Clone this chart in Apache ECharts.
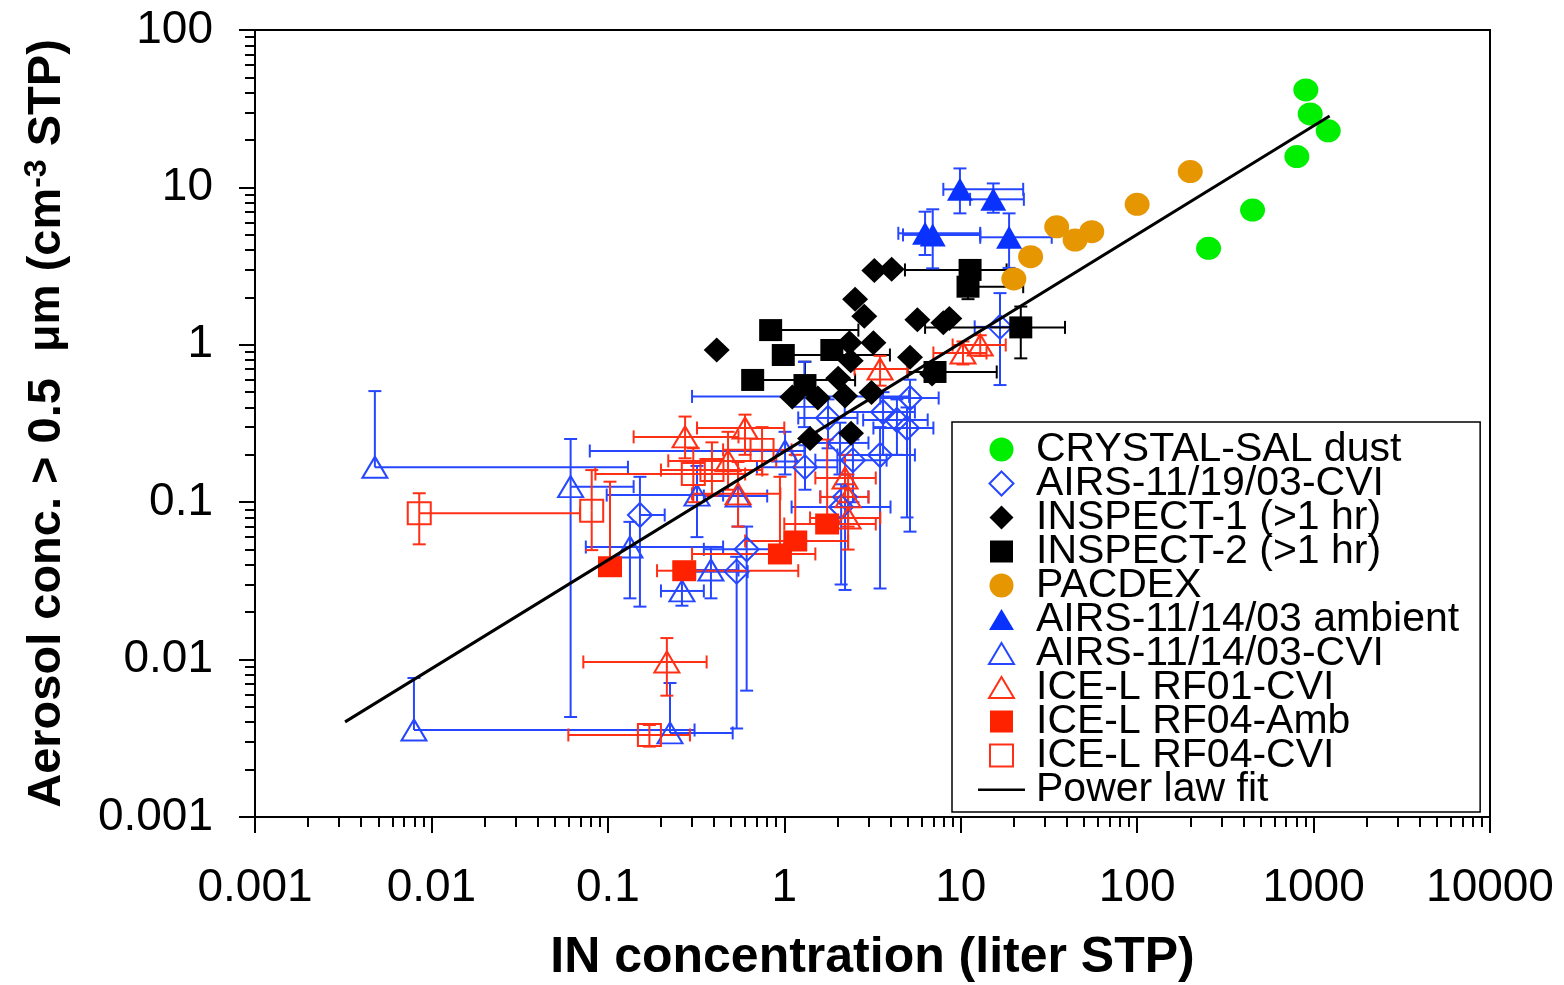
<!DOCTYPE html>
<html>
<head>
<meta charset="utf-8">
<script src="https://cdn.jsdelivr.net/npm/echarts@6/dist/echarts.min.js"></script>
<style>
html,body{margin:0;padding:0;background:#fff;}
#c{width:1564px;height:985px;}
</style>
</head>
<body>
<div id="c"></div>
<script>
// ---------- tick labels ----------
const xMajorTicks = [0.001, 0.01, 0.1, 1, 10, 100, 1000, 10000];
const yMajorTicks = [0.001, 0.01, 0.1, 1, 10, 100];

// ---------- data: [x, y] or [x, y, xlo, xhi, ylo, yhi] ----------
const crystalSal = [[904,41.6],[957,29.3],[1211,22.9],[804,15.7],[451,7.18],[254,4.10]];
const pacdex = [[200,12.6],[100,7.81],[35,5.62],[44.5,4.63],[55.3,5.23],[24.9,3.63],[20.0,2.62]];
const inspect1 = [[3.24,2.96],[4.06,3.02],[2.52,1.95],[2.84,1.52],[5.68,1.44],[8.62,1.47],[7.97,1.38],
  [0.414,0.927],[2.34,1.03],[3.20,1.03],[5.16,0.833],[2.38,0.792],[2.02,0.612],[1.11,0.466],
  [1.55,0.459],[2.21,0.473],[3.12,0.498],[1.40,0.254],[2.39,0.274],[6.88,0.652]];
const inspect2 = [
  [11.3,2.99,4.83,18.2,2.99,2.99],
  [11.0,2.34,11.0,22.6,1.95,2.34],
  [21.9,1.29,6.28,39.0,0.82,1.75],
  [0.837,1.24,0.837,2.63,1.24,1.24],
  [0.987,0.861,0.987,3.97,0.861,0.861],
  [1.86,0.927,1.86,1.86,0.927,0.927],
  [0.662,0.598,0.662,2.52,0.598,0.598],
  [1.31,0.555,1.31,1.31,0.555,0.781],
  [7.15,0.672,5.0,16,0.672,0.672]];
const airsAmbient = [
  [9.9,9.72,7.97,22.6,6.84,13.2],
  [15.3,8.4,11.3,22.8,6.9,10.6],
  [6.28,5.11,4.43,12.9,3.72,7.01],
  [6.94,4.99,4.71,12.9,3.06,7.26],
  [18.8,4.82,12.9,32.8,3.08,6.84]];
const airs1119Cvi = [
  [0.152,0.0829,0.152,0.21,0.0217,0.145],
  [1.31,0.167,0.7,2.0,0.12,0.23],
  [0.612,0.0502,0.35,1.0,0.00635,0.07],
  [0.537,0.0362,0.25,0.62,0.00365,0.045],
  [2.45,0.185,1.5,3.8,0.1,0.25],
  [3.49,0.1995,2.0,5.5,0.0283,0.3],
  [2.21,0.108,1.6,3.0,0.0277,0.15],
  [2.1,0.0932,1.1,4.0,0.03,0.13],
  [5.16,0.459,3.5,7.5,0.065,0.6],
  [3.63,0.374,2.2,5.5,0.2,0.5],
  [4.35,0.333,2.8,6.5,0.2,0.45],
  [4.96,0.296,3.2,7.0,0.08,0.4],
  [2.07,0.238,1.4,3.0,0.15,0.32],
  [16.7,1.30,12,25,0.555,2.13],
  [1.77,0.343,1.2,2.6,0.22,0.45]];
const airs1114Cvi = [
  [0.00478,0.1667,0.00478,0.13,0.1667,0.508],
  [0.0615,0.1255,0.0615,0.14,0.00432,0.252],
  [0.00796,0.00357,0.00796,0.31,0.00357,0.00764],
  [0.225,0.00342,0.225,0.51,0.00342,0.0071],
  [0.1334,0.0519,0.075,0.45,0.0245,0.075],
  [0.263,0.0273,0.2,0.35,0.022,0.034],
  [0.384,0.0371,0.3,0.55,0.0245,0.052],
  [0.32,0.111,0.0985,0.45,0.06,0.17],
  [0.547,0.1095,0.35,0.8,0.07,0.16],
  [1.01,0.2115,0.079,1.3,0.15,0.28],
  [1.3,0.47,0.3,5.1,0.3,0.78]];
const rf01Cvi = [
  [0.274,0.26,0.14,0.55,0.19,0.35],
  [0.599,0.296,0.32,1.0,0.2,0.36],
  [0.48,0.183,0.22,0.9,0.12,0.28],
  [0.547,0.113,0.3,0.95,0.07,0.18],
  [0.216,0.00966,0.0726,0.363,0.0059,0.0137],
  [2.21,0.1425,1.5,3.3,0.1,0.2],
  [2.30,0.0794,1.4,3.5,0.05,0.13],
  [2.30,0.108,1.6,3.0,0.07,0.15],
  [3.49,0.702,2.5,5.0,0.55,0.85],
  [10.3,0.887,7.0,14,0.75,1.05],
  [12.9,0.997,9.0,18,0.85,1.15]];
const rf04Amb = [
  [0.1028,0.0389,0.1028,0.1028,0.0389,0.135],
  [0.271,0.0367,0.19,1.2,0.0367,0.0367],
  [0.945,0.0469,0.3,1.5,0.0469,0.145],
  [1.154,0.0567,0.6,2.3,0.0567,0.2],
  [1.75,0.0727,1.0,3.3,0.0727,0.25]];
const rf04Cvi = [
  [0.00853,0.085,0.00853,0.0695,0.054,0.114],
  [0.081,0.0883,0.081,0.081,0.0496,0.16],
  [0.172,0.00332,0.0597,0.292,0.0028,0.00384],
  [0.305,0.151,0.085,0.6,0.1,0.22],
  [0.389,0.160,0.2,0.75,0.11,0.24],
  [0.748,0.215,0.45,1.1,0.15,0.3]];
const powerLawFit = [[0.00324,0.00402],[1233,28.4]];

// ---------- minor tick positions (axis decoration) ----------
function minorTicks(lo, hi){ const a=[]; for(let e=lo;e<hi;e++){ for(let m=2;m<=9;m++){ a.push(Number((m*Math.pow(10,e)).toPrecision(3))); } } return a; }
const xMinorTicks = minorTicks(-3,4);
const yMinorTicks = minorTicks(-3,2);

const FONT = '"Liberation Sans", Arial, sans-serif';
const BLUE = '#2647ff', BLUE_F = '#0a32ff', RED = '#ff3016', RED_F = '#ff2200';

// legend icons drawn in a 47x25 box (leading moveTo points fix the box)
const ICON_CIRCLE = 'path://M0,0M47,25M11.5,12.5a12,12 0 1,0 24,0a12,12 0 1,0 -24,0z';
const ICON_DIAMOND = 'path://M0,0M47,25M23.5,0.5L35.5,12.5L23.5,24.5L11.5,12.5z';
const ICON_SQUARE = 'path://M0,0M47,25M12,1.5h23v22h-23z';
const ICON_TRI = 'path://M0,0M47,25M23.5,2L36,23H11z';
const ICON_LINE = 'path://M0,0M47,25M0,11.5h47v2.5h-47z';

const defs = [
  {name:'CRYSTAL-SAL dust', data:crystalSal, symbol:'circle', icon:ICON_CIRCLE, size:[25,23], color:'#00ee00', filled:true, z:4},
  {name:'AIRS-11/19/03-CVI', data:airs1119Cvi, symbol:'diamond', icon:ICON_DIAMOND, size:[24,24], color:BLUE, filled:false, eb:BLUE, z:2},
  {name:'INSPECT-1 (>1 hr)', data:inspect1, symbol:'diamond', icon:ICON_DIAMOND, size:[26,25], color:'#000', filled:true, z:4},
  {name:'INSPECT-2 (>1 hr)', data:inspect2, symbol:'rect', icon:ICON_SQUARE, size:[23,22], color:'#000', filled:true, eb:'#000', z:4},
  {name:'PACDEX', data:pacdex, symbol:'circle', icon:ICON_CIRCLE, size:[25,23], color:'#e69600', filled:true, z:4},
  {name:'AIRS-11/14/03 ambient', data:airsAmbient, symbol:'triangle', icon:ICON_TRI, size:[26,23], color:BLUE_F, filled:true, eb:BLUE, z:4},
  {name:'AIRS-11/14/03-CVI', data:airs1114Cvi, symbol:'triangle', icon:ICON_TRI, size:[25,21], color:BLUE, filled:false, eb:BLUE, z:2},
  {name:'ICE-L RF01-CVI', data:rf01Cvi, symbol:'triangle', icon:ICON_TRI, size:[25,21], color:RED, filled:false, eb:RED, z:2},
  {name:'ICE-L RF04-Amb', data:rf04Amb, symbol:'rect', icon:ICON_SQUARE, size:[24,21], color:RED_F, filled:true, eb:RED, z:3},
  {name:'ICE-L RF04-CVI', data:rf04Cvi, symbol:'rect', icon:ICON_SQUARE, size:[23,22], color:RED, filled:false, eb:RED, z:2}
];

function makeErrRender(color){
  return function(params, api){
    const x=api.value(0), y=api.value(1), xlo=api.value(2), xhi=api.value(3), ylo=api.value(4), yhi=api.value(5);
    const c=api.coord([x,y]);
    const cap=6.5;
    const st={stroke:color, lineWidth:2};
    const ch=[];
    const L=(x1,y1,x2,y2)=>ch.push({type:'line', shape:{x1:x1,y1:y1,x2:x2,y2:y2}, style:st});
    if(xlo<x){ const p=api.coord([xlo,y])[0]; L(p,c[1],c[0],c[1]); L(p,c[1]-cap,p,c[1]+cap); }
    if(xhi>x){ const p=api.coord([xhi,y])[0]; L(c[0],c[1],p,c[1]); L(p,c[1]-cap,p,c[1]+cap); }
    if(ylo<y){ const p=api.coord([x,ylo])[1]; L(c[0],c[1],c[0],p); L(c[0]-cap,p,c[0]+cap,p); }
    if(yhi>y){ const p=api.coord([x,yhi])[1]; L(c[0],c[1],c[0],p); L(c[0]-cap,p,c[0]+cap,p); }
    return {type:'group', children:ch};
  };
}

const series = [];
defs.forEach((d,i)=>{
  if(d.eb){
    series.push({
      type:'custom', name:'_eb'+i, renderItem:makeErrRender(d.eb),
      data:d.data, dimensions:['x','y','xlo','xhi','ylo','yhi'],
      encode:{x:0,y:1}, z:1, silent:true, clip:false
    });
  }
});
defs.forEach(d=>{
  series.push({
    type:'scatter', name:d.name, data:d.data.map(r=>[r[0],r[1]]),
    symbol:d.symbol, symbolSize:d.size, z:d.z,
    itemStyle: d.filled ? {color:d.color, opacity:1} : {color:'rgba(0,0,0,0)', borderColor:d.color, borderWidth:2, opacity:1},
    emphasis:{disabled:true}
  });
});
series.push({
  type:'line', name:'Power law fit', data:powerLawFit, showSymbol:false, symbol:'none',
  lineStyle:{color:'#000', width:3}, itemStyle:{color:'#000'}, z:6, silent:true
});

const fmt = v => String(Number(Number(v).toPrecision(3)));

const legendData = defs.map(d=>({name:d.name, icon:d.icon}));
legendData.push({name:'Power law fit', icon:ICON_LINE, itemStyle:{color:'#000', borderWidth:0}});

const option = {
  animation:false,
  backgroundColor:'#fff',
  grid:{left:255, right:74, top:30, bottom:168, show:true, borderColor:'#000', borderWidth:2,
        backgroundColor:'transparent', outerBoundsMode:'none', containLabel:false},
  xAxis:[
    {type:'log', logBase:10, min:0.001, max:10000, position:'bottom', gridIndex:0,
     axisLine:{show:true, lineStyle:{color:'#000', width:2}},
     axisTick:{show:true, inside:false, length:16, lineStyle:{color:'#000', width:2}, customValues:xMajorTicks},
     axisLabel:{show:true, customValues:xMajorTicks, formatter:fmt, fontSize:46, fontFamily:FONT, color:'#000', margin:48},
     splitLine:{show:false}, minorTick:{show:false}, minorSplitLine:{show:false},
     name:'IN concentration (liter STP)', nameLocation:'middle', nameGap:116,
     nameTextStyle:{fontSize:50, fontWeight:'bold', fontFamily:FONT, color:'#000'}},
    {type:'log', logBase:10, min:0.001, max:10000, position:'bottom', gridIndex:0,
     axisLine:{show:false},
     axisTick:{show:true, inside:false, length:10, lineStyle:{color:'#000', width:2}, customValues:xMinorTicks},
     axisLabel:{show:false}, splitLine:{show:false}}
  ],
  yAxis:[
    {type:'log', logBase:10, min:0.001, max:100, position:'left', gridIndex:0,
     axisLine:{show:true, lineStyle:{color:'#000', width:2}},
     axisTick:{show:true, inside:false, length:16, lineStyle:{color:'#000', width:2}, customValues:yMajorTicks},
     axisLabel:{show:true, customValues:yMajorTicks, formatter:fmt, fontSize:46, fontFamily:FONT, color:'#000', margin:42},
     splitLine:{show:false},
     name:'{a|Aerosol conc. > 0.5  }{m|μm}{a| (cm}{s|-3}{a| STP)}', nameLocation:'middle', nameGap:182, nameRotate:90,
     nameTextStyle:{fontFamily:FONT, color:'#000',
       rich:{a:{fontSize:47, fontWeight:'bold', fontFamily:FONT, color:'#000', lineHeight:52},
             m:{fontSize:45, fontWeight:'bold', fontFamily:FONT, color:'#000', lineHeight:52},
             s:{fontSize:32, fontWeight:'bold', fontFamily:FONT, color:'#000', verticalAlign:'top', lineHeight:52}}}},
    {type:'log', logBase:10, min:0.001, max:100, position:'left', gridIndex:0,
     axisLine:{show:false},
     axisTick:{show:true, inside:false, length:10, lineStyle:{color:'#000', width:2}, customValues:yMinorTicks},
     axisLabel:{show:false}, splitLine:{show:false}}
  ],
  legend:{
    show:true, orient:'vertical', left:952, top:422, z:10,
    padding:[7,21,2,25], itemGap:-7, itemWidth:47, itemHeight:25,
    backgroundColor:'#fff', borderColor:'#000', borderWidth:1.5, borderRadius:0,
    selectedMode:false,
    textStyle:{fontSize:41, fontFamily:FONT, color:'#000', padding:[0,0,0,6]},
    data:legendData
  },
  series:series
};

const chart = echarts.init(document.getElementById('c'), null, {renderer:'canvas', width:1564, height:985});
chart.setOption(option);
</script>
</body>
</html>
